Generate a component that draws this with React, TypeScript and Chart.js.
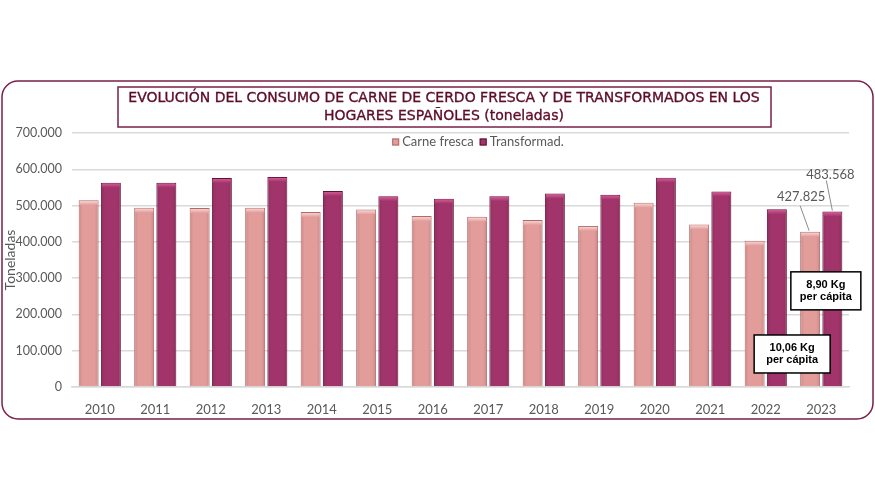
import React, { useEffect, useRef } from 'react';
import { Chart, registerables } from 'chart.js';

Chart.register(...registerables);

const years = ['2010', '2011', '2012', '2013', '2014', '2015', '2016', '2017', '2018', '2019', '2020', '2021', '2022', '2023'];
const carneFresca = [515000, 494000, 493000, 494000, 482000, 489000, 471000, 469000, 460000, 444000, 508000, 448000, 403000, 427825];
const transformados = [563000, 563000, 576000, 579000, 540000, 526000, 519000, 526000, 533000, 530000, 577000, 539000, 490000, 483568];
const seriesNames = ['Carne fresca', 'Transformad.'];
const yMax = 700000;
const yStep = 100000;
const yAxisTitle = 'Toneladas';
const titleLines = [
  'EVOLUCIÓN DEL CONSUMO DE CARNE DE CERDO FRESCA Y DE TRANSFORMADOS EN LOS',
  'HOGARES ESPAÑOLES (toneladas)',
];
const perCapitaFresca = ['10,06 Kg', 'per cápita'];
const perCapitaTransf = ['8,90 Kg', 'per cápita'];

const fmt = (v: number) => String(Math.round(v)).replace(/\B(?=(\d{3})+(?!\d))/g, '.');

const FRESH = '#e29c9a';
const FRESH_BORDER = '#b06a68';
const FRESH_CAP = '#fbe0dc';
const TRANS = '#a1346a';
const TRANS_BORDER = '#5e1234';
const TRANS_CAP = '#e0609f';
const FRAME = '#7a1f48';
const TITLE_COLOR = '#5e0c2a';
const GRAY = '#595959';

const framePlugin = {
  id: 'frame',
  beforeDraw(chart: any) {
    const { ctx, width } = chart;
    ctx.save();
    ctx.fillStyle = '#ffffff';
    ctx.fillRect(0, 0, chart.width, chart.height);
    ctx.strokeStyle = FRAME;
    ctx.lineWidth = 1.5;
    ctx.beginPath();
    ctx.roundRect(2, 81, width - 4, 338, 16);
    ctx.stroke();
    ctx.lineWidth = 1.5;
    ctx.strokeRect(118, 87, 653, 40);
    ctx.fillStyle = TITLE_COLOR;
    ctx.strokeStyle = TITLE_COLOR;
    ctx.lineWidth = 0.35;
    ctx.font = '14px "DejaVu Sans"';
    ctx.textAlign = 'center';
    ctx.textBaseline = 'middle';
    ctx.fillText(titleLines[0], 444, 98);
    ctx.strokeText(titleLines[0], 444, 98);
    ctx.fillText(titleLines[1], 444, 116);
    ctx.strokeText(titleLines[1], 444, 116);
    ctx.restore();
  },
  afterDraw(chart: any) {
    const { ctx } = chart;
    ctx.save();
    ctx.font = '13px Lato';
    ctx.textBaseline = 'middle';
    ctx.textAlign = 'left';
    const box = 7, gapBoxText = 3, gapItems = 6;
    const ds = chart.data.datasets;
    const widths = ds.map((d: any) => box + gapBoxText + ctx.measureText(d.label).width);
    const total = widths.reduce((a: number, b: number) => a + b, 0) + gapItems * (ds.length - 1);
    let x = 478 - total / 2;
    const cy = 142;
    ds.forEach((d: any, i: number) => {
      ctx.fillStyle = d.backgroundColor;
      ctx.fillRect(x, cy - box / 2, box, box);
      ctx.strokeStyle = d.borderColor;
      ctx.lineWidth = 1;
      ctx.strokeRect(x + 0.5, cy - box / 2 + 0.5, box - 1, box - 1);
      ctx.fillStyle = GRAY;
      ctx.fillText(d.label, x + box + gapBoxText, cy);
      x += widths[i] + gapItems;
    });
    ctx.restore();
  },
};

const decoPlugin = {
  id: 'deco',
  afterDatasetsDraw(chart: any) {
    const { ctx } = chart;
    ctx.save();
    [0, 1].forEach((di) => {
      const meta = chart.getDatasetMeta(di);
      meta.data.forEach((bar: any) => {
        const w = bar.width;
        const x0 = bar.x - w / 2;
        const g = ctx.createLinearGradient(0, bar.y, 0, bar.y + 5);
        g.addColorStop(0, di === 0 ? FRESH_CAP : TRANS_CAP);
        g.addColorStop(1, di === 0 ? FRESH : TRANS);
        ctx.fillStyle = g;
        ctx.fillRect(x0 + 1, bar.y + 1, w - 2, 4);
        const sg = ctx.createLinearGradient(x0, 0, x0 + w, 0);
        sg.addColorStop(0, 'rgba(0,0,0,0.12)');
        sg.addColorStop(0.2, 'rgba(0,0,0,0)');
        sg.addColorStop(0.8, 'rgba(0,0,0,0)');
        sg.addColorStop(1, 'rgba(0,0,0,0.12)');
        ctx.fillStyle = sg;
        ctx.fillRect(x0 + 1, bar.y + 5, w - 2, bar.base - bar.y - 6);
      });
    });

    const last = years.length - 1;
    const fBar = chart.getDatasetMeta(0).data[last];
    const tBar = chart.getDatasetMeta(1).data[last];
    ctx.font = '13px Lato';
    ctx.fillStyle = GRAY;
    ctx.strokeStyle = '#8c8c8c';
    ctx.lineWidth = 1;
    ctx.textAlign = 'center';
    ctx.textBaseline = 'middle';
    const fx = fBar.x - 9, fy = fBar.y - 35;
    ctx.fillText(fmt(carneFresca[last]), fx, fy);
    ctx.beginPath();
    ctx.moveTo(fx - 1, fy + 9);
    ctx.lineTo(fBar.x - 1, fBar.y - 1);
    ctx.stroke();
    const tx = tBar.x - 2, ty = tBar.y - 37;
    ctx.fillText(fmt(transformados[last]), tx, ty);
    ctx.beginPath();
    ctx.moveTo(tx - 4, ty + 6);
    ctx.lineTo(tBar.x, tBar.y - 1);
    ctx.stroke();

    const yS = chart.scales.y;
    const drawBox = (cx: number, cy: number, w: number, h: number, lines: string[]) => {
      ctx.fillStyle = '#ffffff';
      ctx.fillRect(cx - w / 2, cy - h / 2, w, h);
      ctx.strokeStyle = '#000000';
      ctx.lineWidth = 1.5;
      ctx.strokeRect(cx - w / 2, cy - h / 2, w, h);
      ctx.fillStyle = '#000000';
      ctx.font = 'bold 11px "Liberation Sans"';
      ctx.fillText(lines[0], cx, cy - 6);
      ctx.fillText(lines[1], cx, cy + 6);
    };
    drawBox(tBar.x - 6.5, yS.getPixelForValue(265000), 70, 38, perCapitaTransf);
    drawBox(fBar.x - 18, yS.getPixelForValue(91000), 76, 38, perCapitaFresca);
    ctx.restore();
  },
};

export default function App() {
  const ref = useRef<HTMLCanvasElement | null>(null);
  useEffect(() => {
    document.body.style.margin = '0';
    const chart = new Chart(ref.current as HTMLCanvasElement, {
      type: 'bar',
      data: {
        labels: years,
        datasets: [
          {
            label: seriesNames[0],
            data: carneFresca,
            backgroundColor: FRESH,
            borderColor: FRESH_BORDER,
            borderWidth: 1,
          },
          {
            label: seriesNames[1],
            data: transformados,
            backgroundColor: TRANS,
            borderColor: TRANS_BORDER,
            borderWidth: 1,
          },
        ],
      },
      options: {
        responsive: false,
        animation: false,
        layout: { padding: { top: 133, right: 26, bottom: 0, left: 0 } },
        plugins: {
          legend: { display: false },
          tooltip: { enabled: false },
        },
        scales: {
          x: {
            grid: { display: false },
            border: { color: '#d9d9d9', width: 1.5 },
            ticks: { color: GRAY, font: { family: 'Lato', size: 13 }, padding: 7 },
            afterFit: (s: any) => { s.height = 113; },
            categoryPercentage: 0.76,
            barPercentage: 0.81,
          } as any,
          y: {
            min: 0,
            max: yMax,
            ticks: {
              stepSize: yStep,
              color: GRAY,
              font: { family: 'Lato', size: 12.5 },
              padding: 10,
              callback: (v: any) => fmt(Number(v)),
            },
            grid: { color: '#d9d9d9', lineWidth: 1.5, drawTicks: false },
            border: { display: false },
            title: {
              display: true,
              text: yAxisTitle,
              color: GRAY,
              font: { family: 'Lato', size: 14 },
              padding: { top: 2, bottom: 0 },
            },
            afterFit: (s: any) => { s.width = 72; },
          },
        },
      },
      plugins: [framePlugin, decoPlugin],
    });
    return () => chart.destroy();
  }, []);
  return <canvas ref={ref} width={875} height={500} style={{ display: 'block' }} />;
}
